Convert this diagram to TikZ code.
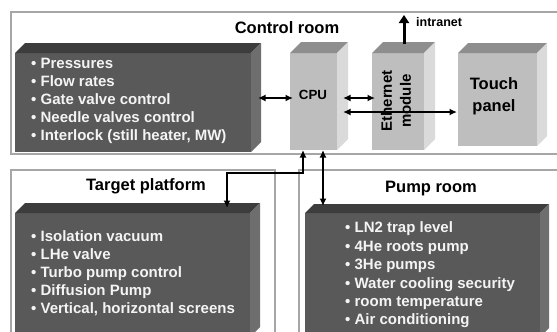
\documentclass[tikz,border=0pt]{standalone}
\usepackage{fontspec}
\setmainfont{Liberation Sans}
\usetikzlibrary{calc,arrows.meta}
\definecolor{dkfront}{HTML}{595959}
\definecolor{dktop}{HTML}{3D3D3D}
\definecolor{dkside}{HTML}{6E6E6E}
\definecolor{ltfront}{HTML}{BEBEBE}
\definecolor{lttop}{HTML}{8E8E8E}
\definecolor{ltside}{HTML}{DADADA}
\definecolor{frameclr}{HTML}{A6A6A6}
\definecolor{txtlight}{HTML}{F4F4F4}
\newcommand\mycube[4]{%
  \fill[#3] (#1.north west) -- ++(#2,-#2) -- ($(#1.north east)+(#2,-#2)$) -- (#1.north east) -- cycle;
  \fill[#4] (#1.north east) -- ++(#2,-#2) -- ($(#1.south east)+(#2,-#2)$) -- (#1.south east) -- cycle;}
\begin{document}
\begin{tikzpicture}[x=1pt,y=-1pt,
  face/.style={anchor=north west,inner sep=0pt,outer sep=0pt,draw=none},
  darkface/.style={face,fill=dkfront},
  lightface/.style={face,fill=ltfront},
  frameline/.style={draw=frameclr,line width=1.1pt},
  title/.style={font=\fontsize{16.5}{19}\selectfont\bfseries,inner sep=0pt},
  bullets/.style={font=\fontsize{15}{18}\selectfont\bfseries,text=txtlight,align=left,anchor=west,inner sep=0pt},
  dbl/.style={line width=1.9pt,{Latex[length=7.5pt,width=7pt]}-{Latex[length=7.5pt,width=7pt]}},
  upar/.style={line width=3pt,-{Triangle[length=8pt,width=10pt]}}]
\useasboundingbox (0,0) rectangle (557,332);
\clip (0,0) rectangle (557,332);
\fill[white] (0,0) rectangle (557,332);
% room frames
\draw[frameline] (570,12) -- (11,12) -- (11,154) -- (570,154);
\draw[frameline] (11,345) -- (11,170) -- (275,170) -- (275,345);
\draw[frameline] (299,345) -- (299,170) -- (570,170);
% titles
\node[title] (ctrltitle) at (287,28) {Control room};
\node[title] (tgttitle) at (146,186) {Target platform};
\node[title] (pumptitle) at (431,189) {Pump room};
% boxes
\node[darkface,minimum width=236pt,minimum height=99pt] (ctrl) at (15,53) {};
\mycube{ctrl}{10}{dktop}{dkside}
\node[lightface,minimum width=47pt,minimum height=97pt] (cpu) at (290,53) {};
\mycube{cpu}{11}{lttop}{ltside}
\node[lightface,minimum width=52pt,minimum height=97pt] (eth) at (372,53) {};
\mycube{eth}{11}{lttop}{ltside}
\node[lightface,minimum width=79pt,minimum height=93pt] (touch) at (458,53) {};
\mycube{touch}{10}{lttop}{ltside}
\node[darkface,minimum width=235pt,minimum height=124pt] (tgt) at (15,213) {};
\mycube{tgt}{10}{dktop}{dkside}
\node[darkface,minimum width=235pt,minimum height=124pt] (pump) at (305,213) {};
\mycube{pump}{9}{dktop}{dkside}
% texts
\node[bullets] (ctrltext) at (31,101) {• Pressures\\• Flow rates\\• Gate valve control\\• Needle valves control\\• Interlock (still heater, MW)};
\node[bullets] (tgttext) at (31,273) {• Isolation vacuum\\• LHe valve\\• Turbo pump control\\• Diffusion Pump\\• Vertical, horizontal screens};
\node[bullets,font=\fontsize{15}{18.4}\selectfont\bfseries] (pumptext) at (345,275) {• LN2 trap level\\• 4He roots pump\\• 3He pumps\\• Water cooling security\\• room temperature\\• Air conditioning};
\node[font=\fontsize{13.3}{15}\selectfont\bfseries,inner sep=0pt] (cpulbl) at (313,95) {CPU};
\node[font=\fontsize{15}{19}\selectfont\bfseries,align=center,rotate=90,inner sep=0pt] (ethlbl) at (396,101) {Ethernet\\module};
\node[font=\fontsize{16.5}{22}\selectfont\bfseries,align=center,inner sep=0pt] (touchlbl) at (494,96) {Touch\\panel};
\node[font=\fontsize{12.5}{14}\selectfont\bfseries,anchor=west,inner sep=0pt] (intr) at (416,22) {intranet};
% connectors
\coordinate (net) at (404,15);
\draw[upar] ($(eth.north)+(6,-9)$) -- (net);
\draw[dbl] ($(ctrl.east)+(7,-4.5)$) -- ($(cpu.west)+(3,-3.5)$);
\draw[dbl] ($(cpu.east)+(6,-3.5)$) -- ($(eth.west)+(3,-3.5)$);
\draw[dbl] ($(cpu.east)+(6,10.5)$) -- ($(touch.west)+(-1,12.5)$);
\draw[dbl] ($(cpu.south)+(-10.5,0)$) -- ++(0,23) -| ($(tgt.north east)+(-23,-5)$);
\draw[dbl] ($(cpu.south)+(9.5,0)$) -- ($(pump.north west)+(18,-7)$);
\end{tikzpicture}
\end{document}
